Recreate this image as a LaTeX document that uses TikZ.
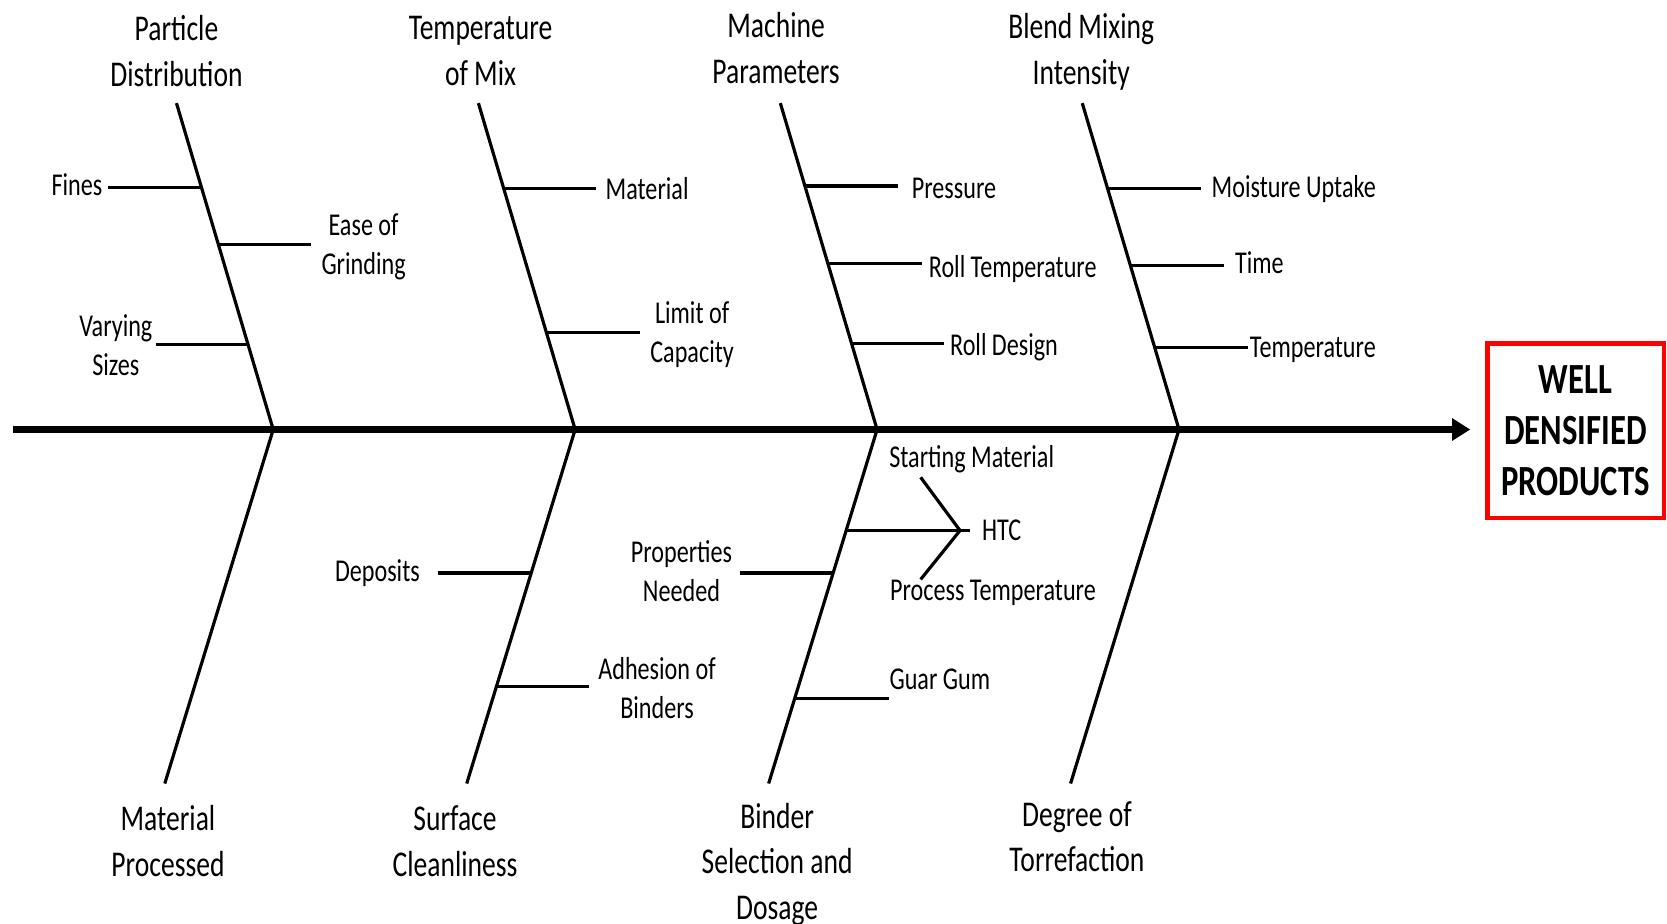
\documentclass[tikz,border=0pt]{standalone}
\usepackage{fontspec}
\setmainfont{Carlito}[FakeStretch=0.76]
\usetikzlibrary{arrows.meta, positioning}

\begin{document}
\begin{tikzpicture}[
        x=0.01cm, y=-0.01cm,
        spine/.style={line width=1.7pt, -{Triangle[length=0.17cm, width=0.2cm]}},
        bone/.style={line width=0.85pt},
        twig/.style={line width=0.85pt},
        cause/.style={align=center, inner sep=0pt, font=\fontsize{9.7}{12.2}\selectfont},
        factor/.style={align=center, inner sep=0pt, font=\fontsize{8.5}{10.5}\selectfont},
        effect/.style={draw=red, line width=1.2pt, align=center, minimum width=1.66cm, minimum height=1.64cm, font=\fontsize{11.5}{13.6}\selectfont\bfseries}
    ]
    \useasboundingbox (0,0) rectangle (1568,869);

    % Head and spine
    \node [effect] (effect) at (1482,405) {WELL\\DENSIFIED\\PRODUCTS};
    \coordinate (tail) at (12,404);
    \coordinate (head) at (1383,404);
    \draw[spine] (tail) -- (head);

    % Junctions on the spine
    \coordinate (j1) at (257,404);
    \coordinate (j2) at (541,404);
    \coordinate (j3) at (825,404);
    \coordinate (j4) at (1109,404);

    % Upper bones
    \coordinate (t1) at (166,97);
    \coordinate (t2) at (450,97);
    \coordinate (t3) at (734,97);
    \coordinate (t4) at (1018,97);
    \draw[bone] (t1) -- (j1);
    \draw[bone] (t2) -- (j2);
    \draw[bone] (t3) -- (j3);
    \draw[bone] (t4) -- (j4);

    % Lower bones
    \coordinate (b1) at (155,737);
    \coordinate (b2) at (439,737);
    \coordinate (b3) at (723,737);
    \coordinate (b4) at (1007,737);
    \draw[bone] (j1) -- (b1);
    \draw[bone] (j2) -- (b2);
    \draw[bone] (j3) -- (b3);
    \draw[bone] (j4) -- (b4);

    % Main causes
    \node [cause] (particle) at (166,48) {Particle\\Distribution};
    \node [cause] (tempmix) at (452,48) {Temperature\\of Mix};
    \node [cause] (machine) at (730,45) {Machine\\Parameters};
    \node [cause] (blend) at (1017,49) {Blend Mixing\\Intensity};
    \node [cause] (material) at (158,791) {Material\\Processed};
    \node [cause] (surface) at (428,791) {Surface\\Cleanliness};
    \node [cause] (binder) at (731,813) {Binder\\Selection and\\Dosage};
    \node [cause] (degree) at (1013,787) {Degree of\\Torrefaction};

    % Particle Distribution
    \node [factor, anchor=east] (fines) at (97,174) {Fines};
    \node [factor] (grinding) at (342,232) {Ease of\\Grinding};
    \node [factor] (sizes) at (109,325) {Varying\\Sizes};
    \coordinate (fines-a) at (102,176);   \coordinate (fines-b) at (189.4,176);
    \coordinate (grind-a) at (205.4,230); \coordinate (grind-b) at (293,230);
    \coordinate (sizes-a) at (147,324);   \coordinate (sizes-b) at (233.3,324);
    \draw[twig] (fines-a) -- (fines-b);
    \draw[twig] (grind-a) -- (grind-b);
    \draw[twig] (sizes-a) -- (sizes-b);

    % Temperature of Mix
    \node [factor, anchor=west] (mat) at (569,177) {Material};
    \node [factor] (limit) at (651,315) {Limit of\\Capacity};
    \coordinate (mat-a) at (473.7,177); \coordinate (mat-b) at (561,177);
    \coordinate (lim-a) at (514,313);   \coordinate (lim-b) at (602,313);
    \draw[twig] (mat-a) -- (mat-b);
    \draw[twig] (lim-a) -- (lim-b);

    % Machine Parameters
    \node [factor, anchor=west] (pressure) at (857,177) {Pressure};
    \node [factor, anchor=west] (rolltemp) at (873,253) {Roll Temperature};
    \node [factor, anchor=west] (rolldes) at (893,327) {Roll Design};
    \coordinate (pres-a) at (757,175); \coordinate (pres-b) at (845,175);
    \coordinate (rt-a) at (779,248);   \coordinate (rt-b) at (867,248);
    \coordinate (rd-a) at (801,323);   \coordinate (rd-b) at (888,323);
    \draw[twig] (pres-a) -- (pres-b);
    \draw[twig] (rt-a) -- (rt-b);
    \draw[twig] (rd-a) -- (rd-b);

    % Blend Mixing Intensity
    \node [factor, anchor=west] (moisture) at (1139,178) {Moisture Uptake};
    \node [factor, anchor=west] (time) at (1161,247) {Time};
    \node [factor, anchor=west] (temp) at (1175,329) {Temperature};
    \coordinate (moist-a) at (1042,177); \coordinate (moist-b) at (1130,177);
    \coordinate (time-a) at (1063,250);  \coordinate (time-b) at (1151,250);
    \coordinate (temp-a) at (1086,327);  \coordinate (temp-b) at (1174,327);
    \draw[twig] (moist-a) -- (moist-b);
    \draw[twig] (time-a) -- (time-b);
    \draw[twig] (temp-a) -- (temp-b);

    % Surface Cleanliness
    \node [factor] (deposits) at (355,539) {Deposits};
    \node [factor] (adhesion) at (618,647) {Adhesion of\\Binders};
    \coordinate (dep-a) at (412,539); \coordinate (dep-b) at (499.6,539);
    \coordinate (adh-a) at (467,646); \coordinate (adh-b) at (554,646);
    \draw[twig] (dep-a) -- (dep-b);
    \draw[twig] (adh-a) -- (adh-b);

    % Binder Selection and Dosage
    \node [factor] (props) at (641,537) {Properties\\Needed};
    \node [factor] (starting) at (914,432) {Starting Material};
    \node [factor, anchor=west] (htc) at (923,499) {HTC};
    \node [factor] (process) at (934,558) {Process Temperature};
    \node [factor, anchor=west] (guar) at (836,639) {Guar Gum};
    \coordinate (prop-a) at (696,539); \coordinate (prop-b) at (783.6,539);
    \coordinate (htc-a) at (796,499);  \coordinate (htc-b) at (912,499);
    \coordinate (fork) at (903,499);
    \coordinate (fork-up) at (866,449); \coordinate (fork-dn) at (866,545);
    \coordinate (guar-a) at (747.5,657); \coordinate (guar-b) at (836,657);
    \draw[twig] (prop-a) -- (prop-b);
    \draw[twig] (htc-a) -- (htc-b);
    \draw[twig] (fork-up) -- (fork) -- (fork-dn);
    \draw[twig] (guar-a) -- (guar-b);

\end{tikzpicture}
\end{document}
